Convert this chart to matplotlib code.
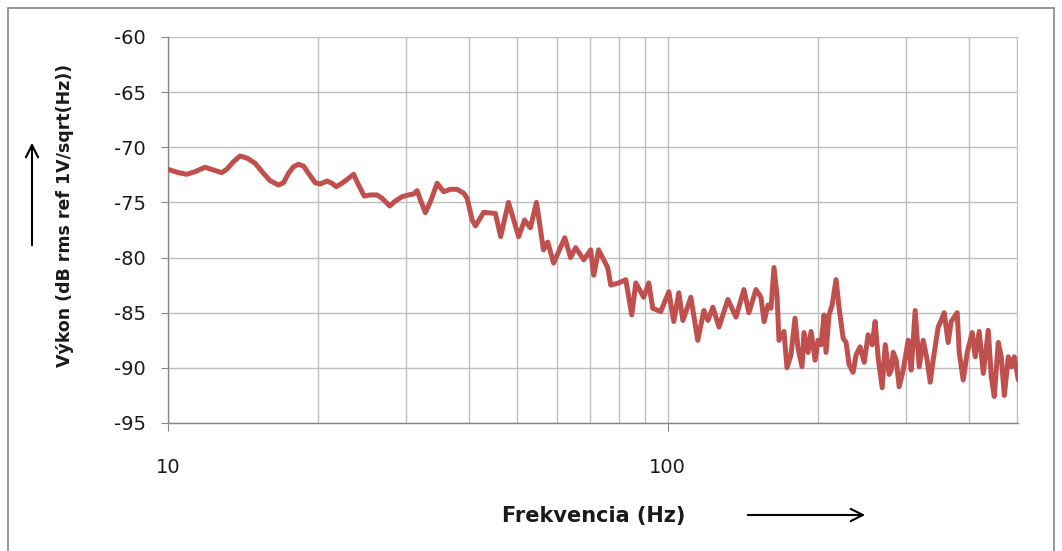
import matplotlib
matplotlib.use("Agg")
import matplotlib.pyplot as plt
from matplotlib.patches import Rectangle, FancyArrowPatch

plt.rcParams['font.family'] = ['DejaVu Sans']
plt.rcParams['axes.unicode_minus'] = False

freq = [10.0, 10.49, 10.90, 11.33, 11.86, 12.33, 12.81, 13.11, 13.52, 13.94, 14.42, 14.94,
        15.52, 16.01, 16.63, 17.03, 17.42, 17.83, 18.24, 18.67, 19.10, 19.70, 20.16, 20.80,
        21.28, 21.71, 22.29, 22.98, 23.51, 24.06, 24.70, 25.39, 26.19, 26.81, 27.76, 28.50,
        29.40, 30.31, 31.02, 31.51, 31.99, 32.73, 33.50, 34.55, 35.62, 36.73, 37.89, 39.06,
        39.68, 40.60, 41.23, 42.8, 45.2, 46.3, 48.0, 50.3, 51.7, 53.1, 54.6, 56.4, 57.5,
        59.1, 62.2, 63.9, 65.4, 67.9, 70.1, 71.1, 72.7, 75.8, 76.9, 79.8, 82.4, 84.7, 86.3,
        89.5, 91.6, 93.3, 96.8, 100.5, 102.8, 105.2, 107.2, 111.2, 114.8, 118.1, 120.3,
        123.1, 126.6, 131.9, 136.9, 142.0, 145.3, 150.1,
        153.6, 155.8, 158.7, 160.9, 163.1, 165.4, 166.9, 170.8, 173.2, 176.4, 179.7, 182.2,
        185.6, 187.3, 190.8, 193.5, 197.1, 199.8, 202.6, 205.4, 207.3, 210.2, 213.2, 217.1,
        220.2, 224.3, 227.4, 230.5, 234.8, 238.2, 242.6, 247.1, 251.7, 256.4, 259.9, 263.6,
        268.5, 272.3, 277.3, 279.9, 282.5, 286.4, 290.4, 295.8, 302.7, 306.9, 312.6, 318.4,
        324.3, 330.4, 335.0, 339.6, 347.5, 352.4, 357.3, 363.9, 369.0, 379.4, 382.9, 390.0,
        397.3, 406.5, 412.2, 419.9, 427.8, 437.7, 443.8, 450.0, 458.4, 464.8, 471.3, 480.1,
        486.8, 493.6, 502.8]
power = [-72.0, -72.30, -72.45, -72.21, -71.81, -72.06, -72.30, -71.99, -71.31, -70.79, -71.00, -71.45,
         -72.36, -73.03, -73.42, -73.21, -72.36, -71.76, -71.54, -71.70, -72.36, -73.21, -73.33, -73.06,
         -73.26, -73.57, -73.26, -72.81, -72.45, -73.42, -74.42, -74.32, -74.32, -74.62, -75.32, -74.87,
         -74.48, -74.32, -74.23, -73.93, -74.78, -75.93, -74.93, -73.26, -74.03, -73.81, -73.81, -74.17,
         -74.62, -76.59, -77.13, -75.9, -76.0, -78.1, -75.0, -78.1, -76.6, -77.3, -75.0, -79.3, -78.6,
         -80.5, -78.2, -80.0, -79.1, -80.2, -79.3, -81.6, -79.3, -80.9, -82.5, -82.3, -82.0, -85.2, -82.3,
         -83.6, -82.3, -84.6, -84.9, -83.1, -85.8, -83.2, -85.7, -83.6, -87.5, -84.8, -85.7,
         -84.5, -86.3, -83.8, -85.4, -82.9, -85.0, -82.9,
         -83.6, -85.8, -84.3, -84.6, -80.9, -83.4, -87.5, -86.7, -90.0, -88.8, -85.5, -88.2,
         -89.9, -86.8, -88.6, -86.7, -89.3, -87.5, -87.9, -85.2, -88.6, -85.2, -84.3, -82.0,
         -84.6, -87.3, -87.7, -89.7, -90.4, -88.8, -88.1, -89.5, -87.0, -87.9, -85.8, -89.1,
         -91.8, -87.9, -90.6, -90.2, -88.6, -89.3, -91.7, -90.2, -87.5, -90.2, -84.8, -89.9,
         -87.5, -89.3, -91.3, -89.3, -86.3, -85.7, -85.0, -87.7, -85.8, -85.0, -88.6, -91.1,
         -88.6, -86.8, -89.0, -86.7, -90.5, -86.6, -90.8, -92.6, -87.7, -89.0, -92.5, -89.0,
         -89.9, -89.0, -91.1]

y_ticks = [-95, -90, -85, -80, -75, -70, -65, -60]
x_major = [10, 100]
x_minor = [20, 30, 40, 50, 60, 70, 80, 90, 200, 300, 400, 500]

W, H = 1062, 551
fig = plt.figure(figsize=(W / 100, H / 100), dpi=100)
fig.patch.set_facecolor('white')

# outer chart border
fig.patches.append(Rectangle((8 / W, -0.05), (1054 - 8) / W, (H - 8) / H + 0.05,
                             transform=fig.transFigure, fill=False,
                             edgecolor='#868686', linewidth=1.2))

ax = fig.add_axes([168 / W, 1 - 423 / H, (1018 - 168) / W, (423 - 37) / H])
ax.set_xscale('log')
ax.set_xlim(10, 502)
ax.set_ylim(-95, -60)

ax.plot(freq, power, color='#C0504D', linewidth=3.6, solid_joinstyle='round',
        solid_capstyle='round', zorder=3)

ax.set_yticks(y_ticks)
ax.set_yticklabels([str(v) for v in y_ticks])
ax.set_xticks(x_major)
ax.set_xticklabels([str(v) for v in x_major])
ax.set_xticks(x_minor, minor=True)
ax.set_xticklabels([], minor=True)

ax.grid(True, which='both', axis='x', color='#BEBEBE', linewidth=1.0)
ax.grid(True, which='major', axis='y', color='#BEBEBE', linewidth=1.0)
ax.set_axisbelow(True)

for s in ['top', 'right']:
    ax.spines[s].set_visible(False)
for s in ['left', 'bottom']:
    ax.spines[s].set_color('#868686')
    ax.spines[s].set_linewidth(1.0)

ax.tick_params(axis='y', which='major', length=5, color='#868686',
               labelsize=14, pad=11, labelcolor='#1a1a1a')
ax.tick_params(axis='x', which='major', length=6, color='#868686',
               labelsize=14, pad=19, labelcolor='#1a1a1a')
ax.tick_params(axis='x', which='minor', length=0)

fig.text(65 / W, 1 - 215 / H, 'Výkon (dB rms ref 1V/sqrt(Hz))', rotation=90,
         ha='center', va='center', fontsize=12.5, fontweight='bold', color='#1a1a1a')
fig.text(594 / W, 1 - 516 / H, 'Frekvencia (Hz)', ha='center', va='center',
         fontsize=15, fontweight='bold', color='#1a1a1a')

fig.patches.append(FancyArrowPatch((32 / W, 1 - 248 / H), (32 / W, 1 - 140 / H),
                                   transform=fig.transFigure, arrowstyle='->',
                                   mutation_scale=22, color='black', linewidth=1.5))
fig.patches.append(FancyArrowPatch((745 / W, 1 - 515 / H), (868 / W, 1 - 515 / H),
                                   transform=fig.transFigure, arrowstyle='->',
                                   mutation_scale=22, color='black', linewidth=1.5))

fig.savefig('out.png', dpi=100, facecolor='white')
